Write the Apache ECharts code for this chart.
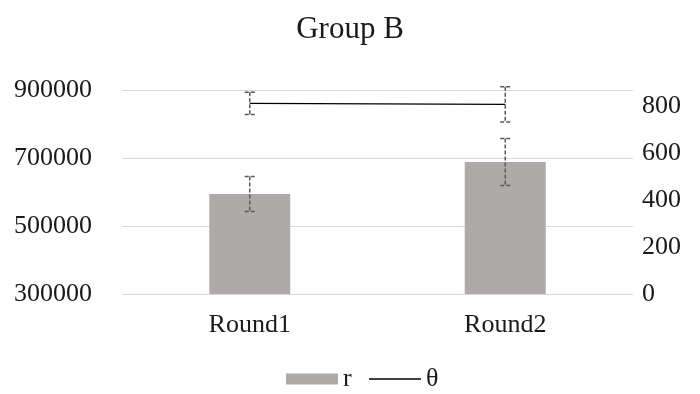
<!DOCTYPE html>
<html>
<head>
<meta charset="utf-8">
<script src="https://cdn.jsdelivr.net/npm/echarts@6/dist/echarts.min.js"></script>
<style>html,body{margin:0;padding:0;background:#fff}#c{width:700px;height:394px}</style>
</head>
<body>
<div id="c"></div>
<script>
const categories = ['Round1', 'Round2'];
const rValues = [594000, 688000];
const rErrors = [51500, 69000];
const thetaValues = [813, 809];
const thetaErrors = [47, 75];
const leftTicks = [300000, 900000, 200000];   // min, max, interval
const rightTicks = [0, 870, 200];

const FONT = 'Liberation Serif';
const TXT = '#1a1a1a';
const chart = echarts.init(document.getElementById('c'));

function errItem(params, api) {
  const x = api.value(0);
  const lo = api.coord([x, api.value(1)]);
  const hi = api.coord([x, api.value(2)]);
  const cap = 5;
  const style = { stroke: '#595959', lineWidth: 1.5, lineDash: [4, 2] };
  return {
    type: 'group',
    children: [
      { type: 'line', shape: { x1: hi[0], y1: hi[1], x2: lo[0], y2: lo[1] }, style: style },
      { type: 'line', shape: { x1: hi[0] - cap, y1: hi[1], x2: hi[0] + cap, y2: hi[1] }, style: style },
      { type: 'line', shape: { x1: lo[0] - cap, y1: lo[1], x2: lo[0] + cap, y2: lo[1] }, style: style }
    ]
  };
}

const rErr = categories.map((c, i) => [i, rValues[i] - rErrors[i], rValues[i] + rErrors[i]]);
const tErr = categories.map((c, i) => [i, thetaValues[i] - thetaErrors[i], thetaValues[i] + thetaErrors[i]]);

const legendText = { fontFamily: FONT, fontSize: 26, color: TXT };

chart.setOption({
  animation: false,
  textStyle: { fontFamily: FONT },
  title: {
    text: 'Group B', left: 'center', top: 9,
    textStyle: { fontFamily: FONT, fontSize: 31, fontWeight: 'normal', color: TXT }
  },
  legend: [
    {
      data: [{ name: 'r', icon: 'rect' }],
      left: 286, top: 366, padding: 0,
      itemWidth: 52, itemHeight: 11, itemGap: 0,
      textStyle: legendText
    },
    {
      data: [{ name: 'θ', icon: 'rect', itemStyle: { color: '#000' } }],
      left: 369, top: 366, padding: 0,
      itemWidth: 52, itemHeight: 1.5, itemGap: 0,
      textStyle: legendText
    }
  ],
  grid: { left: 122, right: 67, top: 90, bottom: 100 },
  xAxis: {
    type: 'category', data: categories,
    axisLine: { show: false }, axisTick: { show: false },
    axisLabel: { fontFamily: FONT, fontSize: 26, color: TXT, margin: 18 }
  },
  yAxis: [
    {
      type: 'value', min: leftTicks[0], max: leftTicks[1], interval: leftTicks[2],
      axisLine: { show: false }, axisTick: { show: false },
      splitLine: { lineStyle: { color: '#d9d9d9', width: 1 } },
      axisLabel: { fontFamily: FONT, fontSize: 26, color: TXT, margin: 30, formatter: v => String(v) }
    },
    {
      type: 'value', min: rightTicks[0], max: rightTicks[1], interval: rightTicks[2],
      axisLine: { show: false }, axisTick: { show: false },
      splitLine: { show: false },
      axisLabel: { fontFamily: FONT, fontSize: 26, color: TXT, margin: 9, showMaxLabel: false, formatter: v => String(v) }
    }
  ],
  series: [
    {
      name: 'r', type: 'bar', yAxisIndex: 0, data: rValues,
      barWidth: 81, itemStyle: { color: '#aeaaaa' }, z: 2
    },
    {
      name: 'rErr', type: 'custom', yAxisIndex: 0, data: rErr,
      renderItem: errItem, z: 5, silent: true
    },
    {
      name: 'θ', type: 'line', yAxisIndex: 1, data: thetaValues,
      symbol: 'none', lineStyle: { color: '#000', width: 1.25 }, itemStyle: { color: '#000' }, z: 4
    },
    {
      name: 'tErr', type: 'custom', yAxisIndex: 1, data: tErr,
      renderItem: errItem, z: 5, silent: true
    }
  ]
});
</script>
</body>
</html>
